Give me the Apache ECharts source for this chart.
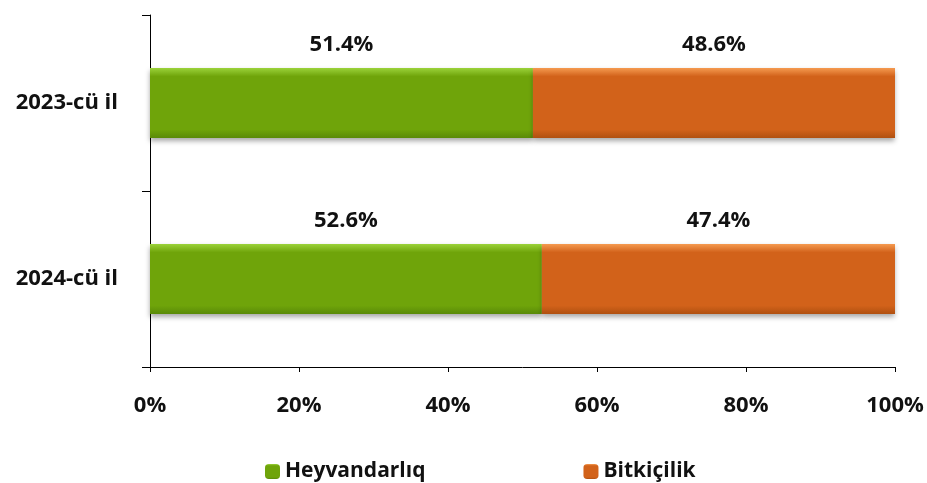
<!DOCTYPE html>
<html><head><meta charset="utf-8">
<script src="https://cdn.jsdelivr.net/npm/echarts@6/dist/echarts.min.js"></script>
<style>html,body{margin:0;padding:0;background:#fff}#c{width:927px;height:483px}</style>
</head><body><div id="c"></div>
<script>
const categories = ['2023-cü il', '2024-cü il'];
const heyvandarliq = [51.4, 52.6];
const bitkicilik = [48.6, 47.4];
const xTicks = [0, 20, 40, 60, 80, 100];

const font = 'Open Sans';
const chart = echarts.init(document.getElementById('c'));
function grad(top, mid, bot) {
  return new echarts.graphic.LinearGradient(0, 0, 0, 1, [
    {offset: 0, color: top}, {offset: 0.12, color: mid}, {offset: 0.88, color: mid}, {offset: 1, color: bot}
  ]);
}
const lbl = {show: true, position: 'top', distance: 12, fontFamily: font, fontWeight: 'bold', fontSize: 22, color: '#111',
  formatter: p => p.value.toFixed(1) + '%'};
chart.setOption({
  animation: false,
  grid: {left: 150, right: 32, top: 15, bottom: 116},
  legend: {
    left: 260, top: 456, itemGap: 158, itemWidth: 15, itemHeight: 15,
    textStyle: {fontFamily: font, fontWeight: 'bold', fontSize: 21, color: '#111'},
    data: ['Heyvandarlıq', 'Bitkiçilik']
  },
  xAxis: {
    type: 'value', min: 0, max: 100, interval: 20,
    axisLine: {show: true, lineStyle: {color: '#000'}},
    axisTick: {show: true, inside: false, length: 5, lineStyle: {color: '#000'}},
    splitLine: {show: false},
    axisLabel: {margin: 28, fontFamily: font, fontWeight: 'bold', fontSize: 22, color: '#111',
      formatter: v => xTicks.includes(v) ? v + '%' : ''}
  },
  yAxis: {
    type: 'category', data: categories, inverse: true,
    axisLine: {show: true, lineStyle: {color: '#000'}},
    axisTick: {show: true, length: 8, lineStyle: {color: '#000'}},
    axisLabel: {margin: 32, fontFamily: font, fontWeight: 'bold', fontSize: 22, color: '#111'}
  },
  series: [
    {name: 'Heyvandarlıq', type: 'bar', stack: 't', barWidth: 70, data: heyvandarliq, label: lbl,
      itemStyle: {color: grad('#9bd23a', '#6fa40a', '#5a8a08'), shadowColor: 'rgba(0,0,0,0.35)', shadowBlur: 5, shadowOffsetY: 3}},
    {name: 'Bitkiçilik', type: 'bar', stack: 't', barWidth: 70, data: bitkicilik, label: lbl,
      itemStyle: {color: grad('#f59a50', '#d2621a', '#b05010'), shadowColor: 'rgba(0,0,0,0.35)', shadowBlur: 5, shadowOffsetY: 3}}
  ]
});
</script></body></html>
